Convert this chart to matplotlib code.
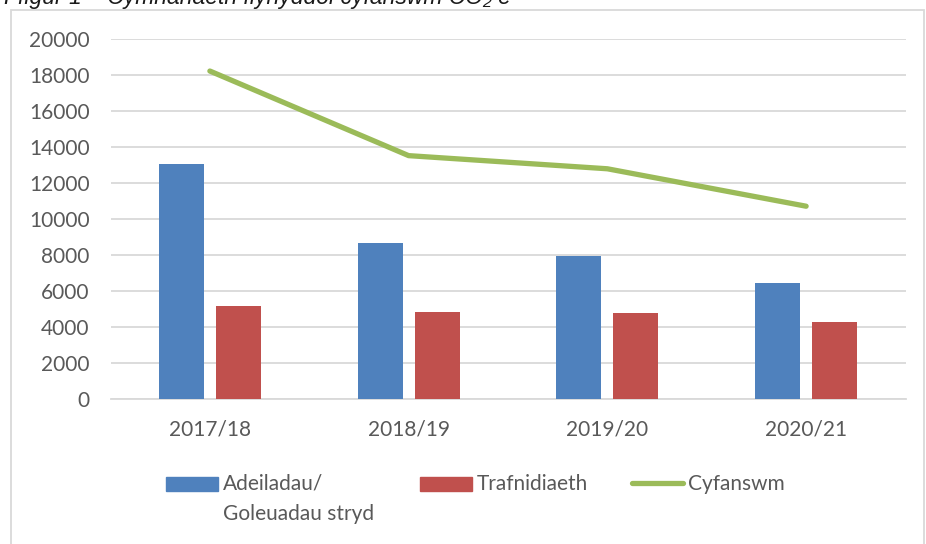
import numpy as np
import matplotlib
matplotlib.use("Agg")
import matplotlib.pyplot as plt
from matplotlib.patches import Rectangle
from matplotlib.lines import Line2D

# Data
years = ["2017/18", "2018/19", "2019/20", "2020/21"]
adeiladau = [13050, 8650, 7930, 6420]
trafnidiaeth = [5160, 4830, 4800, 4270]
cyfanswm = [18220, 13520, 12790, 10710]
yticks = [0, 2000, 4000, 6000, 8000, 10000, 12000, 14000, 16000, 18000, 20000]
series_names = ["Adeiladau/\nGoleuadau stryd", "Trafnidiaeth", "Cyfanswm"]

blue = "#4f81bd"
red = "#c0504d"
green = "#9bbb59"
grey_text = "#595959"
grid_col = "#d9d9d9"

plt.rcParams['font.family'] = ['Lato', 'DejaVu Sans']

W, H = 926, 544
fig = plt.figure(figsize=(W / 100, H / 100), dpi=100)


def fx(px):
    return px / W


def fy(py):
    return 1 - py / H


# Chart frame
fig.patches.append(Rectangle((fx(11), fy(H + 5)), fx(913), fy(10) - fy(H + 5),
                             transform=fig.transFigure, fill=False,
                             edgecolor=grid_col, linewidth=1.3))

# Caption, cut off at the top edge like the reference
fig.text(fx(4), fy(4), "Ffigur 1 \u2013 Cymhariaeth flynyddol cyfanswm CO\u2082 e",
         fontsize=16.5, style='italic', va='baseline', ha='left', color="#1a1a1a",
         family=['Liberation Sans', 'DejaVu Sans'])

ax = fig.add_axes([fx(110.5), fy(399), fx(795), fy(39) - fy(399)])

x = np.arange(len(years))
w = 0.226
off = 0.143
ax.bar(x - off, adeiladau, width=w, color=blue, zorder=3)
ax.bar(x + off, trafnidiaeth, width=w, color=red, zorder=3)
ax.plot(x, cyfanswm, color=green, linewidth=3.8, solid_capstyle='round', zorder=4)

ax.set_xlim(-0.5, len(years) - 0.5)
ax.set_ylim(0, 20000)
ax.set_yticks(yticks)
ax.set_yticklabels([str(v) for v in yticks])
ax.set_xticks(x)
ax.set_xticklabels(years)

ax.yaxis.grid(True, color=grid_col, linewidth=1.3, zorder=0)
ax.set_axisbelow(True)
for s in ["left", "right", "top"]:
    ax.spines[s].set_visible(False)
ax.spines["bottom"].set_color(grid_col)
ax.spines["bottom"].set_linewidth(1.3)
ax.tick_params(axis='both', length=0, labelsize=15, labelcolor=grey_text)
ax.tick_params(axis='y', pad=15)
ax.tick_params(axis='x', pad=15)

# Legend drawn by hand to get the wrapped first entry like the reference
fig.patches.append(Rectangle((fx(166), fy(491)), fx(52), fy(477) - fy(491),
                             transform=fig.transFigure, color=blue))
for i, line in enumerate(series_names[0].split("\n")):
    fig.text(fx(223), fy(490 + 30 * i), line, fontsize=15, color=grey_text,
             va='baseline', ha='left')
fig.patches.append(Rectangle((fx(420), fy(491)), fx(52), fy(477) - fy(491),
                             transform=fig.transFigure, color=red))
fig.text(fx(477), fy(490), series_names[1], fontsize=15, color=grey_text,
         va='baseline', ha='left')
fig.lines.append(Line2D([fx(632), fx(683)], [fy(483), fy(483)],
                        transform=fig.transFigure, color=green, linewidth=3.8,
                        solid_capstyle='round'))
fig.text(fx(688), fy(490), series_names[2], fontsize=15, color=grey_text,
         va='baseline', ha='left')

fig.savefig("out.png", dpi=100)
